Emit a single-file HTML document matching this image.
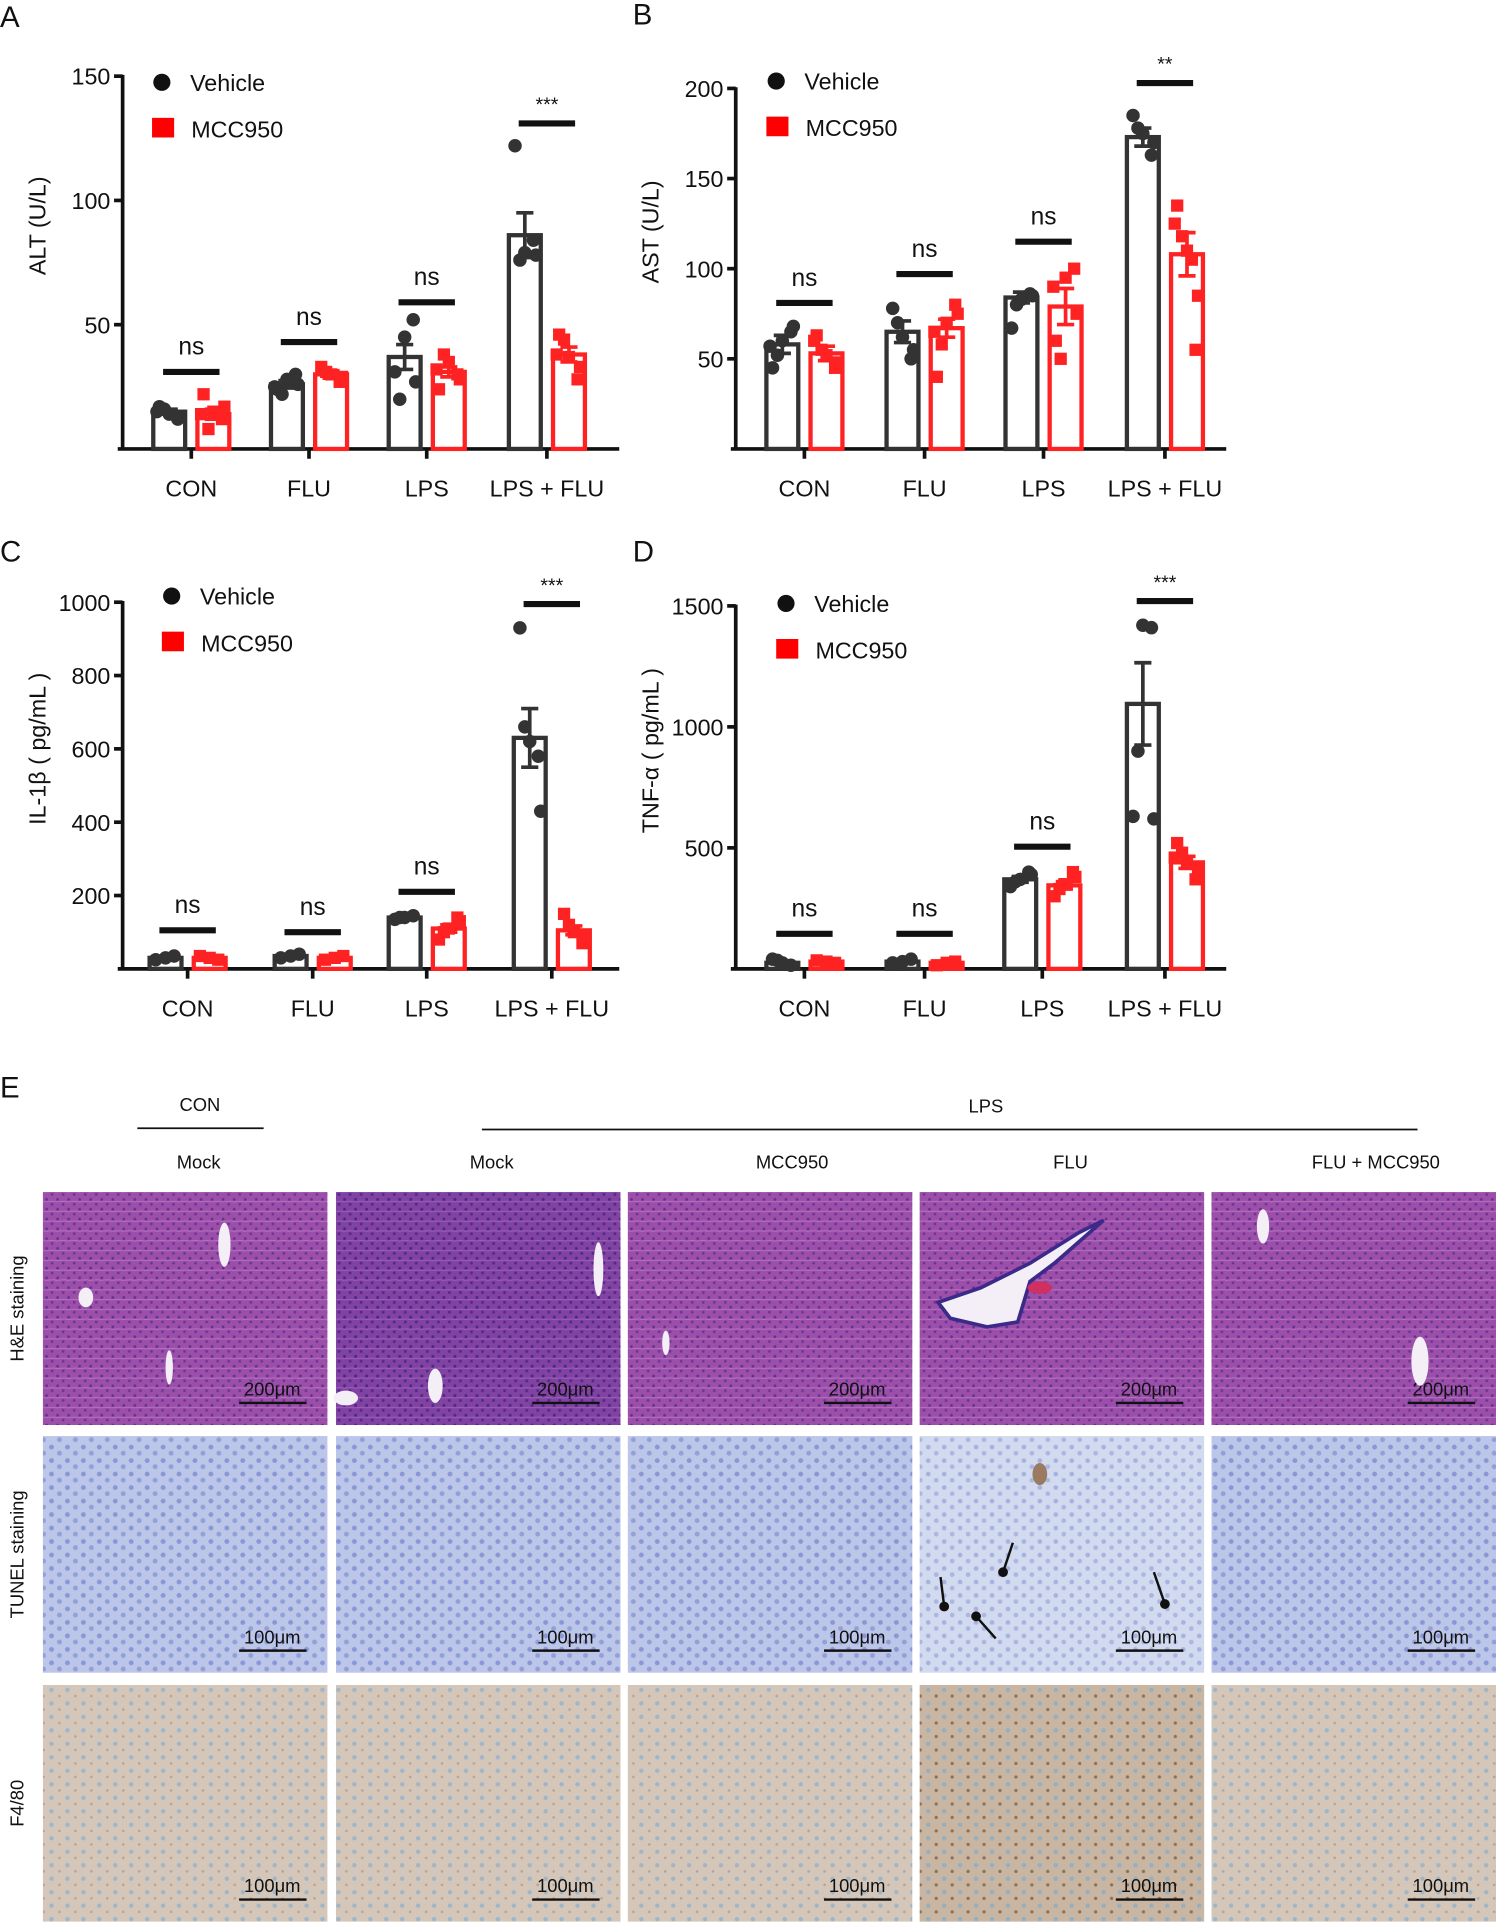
<!DOCTYPE html>
<html><head><meta charset="utf-8">
<style>
html,body{margin:0;padding:0;background:#fff;}
svg{display:block;font-family:"Liberation Sans",Arial,sans-serif;}
</style></head>
<body>
<svg id="fig" width="1496" height="1923" viewBox="0 0 1220 1568" xmlns="http://www.w3.org/2000/svg">
<defs>
<pattern id="heTex" width="9" height="8" patternUnits="userSpaceOnUse">
<rect width="9" height="8" fill="#9c4ea8"/><circle cx="2" cy="2" r="1.1" fill="#5a3494"/><circle cx="6.5" cy="6" r="1.1" fill="#62379a"/><path d="M0 4 L9 3.5" stroke="#bd7ec4" stroke-width="0.6"/>
</pattern>
<pattern id="heTex2" width="9" height="8" patternUnits="userSpaceOnUse">
<rect width="9" height="8" fill="#8242a2"/><circle cx="2" cy="2" r="1.2" fill="#472a88"/><circle cx="6.5" cy="6" r="1.2" fill="#4d2c8c"/><path d="M0 4 L9 3.5" stroke="#a567bb" stroke-width="0.6"/>
</pattern>
<pattern id="tuTex" width="13" height="11" patternUnits="userSpaceOnUse">
<rect width="13" height="11" fill="#bcc6e8"/><circle cx="3" cy="3" r="2" fill="#8997d6"/><circle cx="9.5" cy="8" r="2" fill="#929fd9"/>
</pattern>
<pattern id="tuTex2" width="13" height="11" patternUnits="userSpaceOnUse">
<rect width="13" height="11" fill="#d2daef"/><circle cx="3" cy="3" r="1.9" fill="#a6b2df"/><circle cx="9.5" cy="8" r="1.9" fill="#abb6e1"/>
</pattern>
<pattern id="f4Tex" width="13" height="11" patternUnits="userSpaceOnUse">
<rect width="13" height="11" fill="#d4c7ba"/><circle cx="3" cy="3" r="1.8" fill="#9fb6c8"/><circle cx="9.5" cy="8" r="1.1" fill="#bba592"/>
</pattern>
<pattern id="f4Tex2" width="13" height="11" patternUnits="userSpaceOnUse">
<rect width="13" height="11" fill="#c8b5a2"/><circle cx="3" cy="3" r="1.8" fill="#94aec2"/><circle cx="9.5" cy="8" r="1.3" fill="#8e6e55"/>
</pattern>
</defs>
<g id="charts"></g>
<g id="panelE"></g>
</svg>
<script>
const NS="http://www.w3.org/2000/svg";
const svg=document.getElementById('charts');

// ---------- Panel A (ALT) ----------
const catsA=["CON","FLU","LPS","LPS + FLU"];
const vehA=[15,26,37,86];
const mccA=[14,30,31,38];
const vehSemA=[1,1.5,5,9];
const mccSemA=[2,1.5,2,3];
const vehPtsA=[[14,17,12,16,13,15],[28,24,30,22,26,25],[45,31,52,20,27],[79,122,84,76,78]];
const mccPtsA=[[15,22,12,8,17,14],[30,33,27,31,29],[35,24,30,38,28,32],[37,46,28,44,33,38]];
const sigA=["ns","ns","ns","***"];
const sigValA=[31,43,59,131];
const ticksA=[50,100,150];
// ---------- Panel B (AST) ----------
const catsB=["CON","FLU","LPS","LPS + FLU"];
const vehB=[58,65,84,173];
const mccB=[53,67,79,108];
const vehSemB=[5,6,3,5];
const mccSemB=[4,5,10,12];
const vehPtsB=[[60,45,65,52,68,57],[62,78,50,70,55],[83,67,86,80,85],[175,185,163,178,170]];
const mccPtsB=[[52,63,45,55,48,60],[70,40,80,58,75,65],[95,60,100,50,75,90],[110,135,55,118,85,125,105]];
const sigB=["ns","ns","ns","**"];
const sigValB=[81,97,115,203];
const ticksB=[50,100,150,200];
// ---------- Panel C (IL-1b) ----------
const catsC=["CON","FLU","LPS","LPS + FLU"];
const vehC=[30,35,140,630];
const mccC=[30,30,110,105];
const vehSemC=[3,3,4,80];
const mccSemC=[3,3,10,12];
const vehPtsC=[[30,25,35],[35,30,40],[140,135,145,140],[620,930,580,660,430]];
const mccPtsC=[[30,35,25],[30,25,35],[110,80,140,100,130],[100,150,70,120,90]];
const sigC=["ns","ns","ns","***"];
const sigValC=[105,100,210,995];
const ticksC=[200,400,600,800,1000];
// ---------- Panel D (TNF-a) ----------
const catsD=["CON","FLU","LPS","LPS + FLU"];
const vehD=[25,30,370,1095];
const mccD=[30,25,345,440];
const vehSemD=[4,4,12,170];
const mccSemD=[3,3,15,25];
const vehPtsD=[[25,40,15,35],[30,25,40],[370,340,400,360,390],[1420,630,1410,900,620]];
const mccPtsD=[[30,35,25],[25,15,30],[350,300,400,330,380],[440,520,370,480,410,460]];
const sigD=["ns","ns","ns","***"];
const sigValD=[145,145,505,1520];
const ticksD=[500,1000,1500];

const jitter=[0,-8,7,-4,9,-10,4];

function el(tag,attrs,parent,text){
  const e=document.createElementNS(NS,tag);
  for(const k in attrs)e.setAttribute(k,attrs[k]);
  if(text!==undefined)e.textContent=text;
  (parent||svg).appendChild(e);return e;
}

function chart(cfg){
  const g=el('g',{});
  
  
  const y=v=>cfg.y0-(v/cfg.yMax)*(cfg.y0-cfg.yTop);
  const x=i=>cfg.catX[i];
  const pl=el('text',{x:cfg.letterX,y:cfg.letterY,'font-size':24,fill:'#111'},g,cfg.letter);
  
  
  const ya=el('line',{x1:cfg.axX,y1:cfg.yTop-1,x2:cfg.axX,y2:cfg.y0+1,stroke:'#111','stroke-width':3},g);
  
  
  const xa=el('line',{x1:cfg.axX-4,y1:cfg.y0,x2:cfg.xEnd,y2:cfg.y0,stroke:'#111','stroke-width':3},g);
  
  
  cfg.ticks.forEach(t=>{
    el('line',{x1:cfg.axX-7,y1:y(t),x2:cfg.axX,y2:y(t),stroke:'#111','stroke-width':3},g);
    const tl=el('text',{x:cfg.axX-10,y:y(t)+7,'font-size':19,'text-anchor':'end',fill:'#111'},g,String(t));
    
    
  });
  const yt=el('text',{x:0,y:0,'font-size':19,'text-anchor':'middle',fill:'#111',transform:`translate(${cfg.axX-63},${(cfg.yTop+cfg.y0)/2-30}) rotate(-90)`},g,cfg.yTitle);
  
  
  const lc=el('circle',{cx:cfg.legX,cy:cfg.legY,r:7,fill:'#111'},g);
  
  
  const lt1=el('text',{x:cfg.legX+23,y:cfg.legY+7,'font-size':19,fill:'#111'},g,'Vehicle');
  
  
  const ls=el('rect',{x:cfg.legX-8,y:cfg.legY+29,width:18,height:16,fill:'#f00'},g);
  
  
  const lt2=el('text',{x:cfg.legX+24,y:cfg.legY+45,'font-size':19,fill:'#111'},g,'MCC950');
  
  
  const bw=26, off=18;
  cfg.cats.forEach((c,i)=>{
    el('line',{x1:x(i),y1:cfg.y0,x2:x(i),y2:cfg.y0+8,stroke:'#111','stroke-width':3},g);
    const cl=el('text',{x:x(i),y:cfg.y0+39,'font-size':19,'text-anchor':'middle',fill:'#111'},g,c);
    
    
    [[cfg.veh,cfg.vehSem,cfg.vehPts,'#333',-off,'vehicle'],[cfg.mcc,cfg.mccSem,cfg.mccPts,'#f22',off,'mcc950']].forEach(([m,s,p,col,o,nm])=>{
      const cx=x(i)+o;
      const b=el('rect',{x:cx-bw/2,y:y(m[i]),width:bw,height:cfg.y0-y(m[i]),fill:'none',stroke:col,'stroke-width':3.5},g);
      
      
      const eb=el('path',{d:`M${cx} ${y(m[i]+s[i])}V${y(m[i]-s[i])}M${cx-7} ${y(m[i]+s[i])}H${cx+7}M${cx-7} ${y(m[i]-s[i])}H${cx+7}`,stroke:col,'stroke-width':3,fill:'none'},g);
      
      
      p[i].forEach((v,k)=>{
        const px=cx+jitter[k%jitter.length];
        let pt;
        if(nm==='vehicle') pt=el('circle',{cx:px,cy:y(v),r:5.5,fill:'#333'},g);
        else pt=el('rect',{x:px-5,y:y(v)-5,width:10,height:10,fill:'#f22'},g);
        
        
      });
    });
    const sy=y(cfg.sigVal[i]);
    const sb=el('line',{x1:x(i)-23,y1:sy,x2:x(i)+23,y2:sy,stroke:'#111','stroke-width':5},g);
    
    
    const star=cfg.sig[i]!=='ns';
    const st=el('text',{x:x(i),y:star?sy-10:sy-14,'font-size':star?16:20,'text-anchor':'middle',fill:'#111'},g,cfg.sig[i]);
    
    
  });
}

chart({name:'chart-alt',letter:'A',letterX:0,letterY:22,axX:100,yTop:62,y0:366,yMax:150,xEnd:505,ticks:ticksA,yTitle:'ALT  (U/L)',
  catX:[156,252,348,446],cats:catsA,veh:vehA,mcc:mccA,vehSem:vehSemA,mccSem:mccSemA,vehPts:vehPtsA,mccPts:mccPtsA,sig:sigA,sigVal:sigValA,legX:132,legY:67});
chart({name:'chart-ast',letter:'B',letterX:516,letterY:20,axX:600,yTop:72,y0:366,yMax:200,xEnd:1000,ticks:ticksB,yTitle:'AST  (U/L)',
  catX:[656,754,851,950],cats:catsB,veh:vehB,mcc:mccB,vehSem:vehSemB,mccSem:mccSemB,vehPts:vehPtsB,mccPts:mccPtsB,sig:sigB,sigVal:sigValB,legX:633,legY:66});
chart({name:'chart-il1b',letter:'C',letterX:0,letterY:458,axX:100,yTop:491,y0:790,yMax:1000,xEnd:505,ticks:ticksC,yTitle:'IL-1β ( pg/mL )',
  catX:[153,255,348,450],cats:catsC,veh:vehC,mcc:mccC,vehSem:vehSemC,mccSem:mccSemC,vehPts:vehPtsC,mccPts:mccPtsC,sig:sigC,sigVal:sigValC,legX:140,legY:486});
chart({name:'chart-tnfa',letter:'D',letterX:516,letterY:458,axX:600,yTop:494,y0:790,yMax:1500,xEnd:1000,ticks:ticksD,yTitle:'TNF-α ( pg/mL )',
  catX:[656,754,850,950],cats:catsD,veh:vehD,mcc:mccD,vehSem:vehSemD,mccSem:mccSemD,vehPts:vehPtsD,mccPts:mccPtsD,sig:sigD,sigVal:sigValD,legX:641,legY:492});

// ---------- Panel E ----------
const E=document.getElementById('panelE');
function te(tag,a,t){return el(tag,a,E,t);}
let t;
t=te('text',{x:0,y:895,'font-size':24,fill:'#111'},'E');
t=te('text',{x:163,y:906,'font-size':15,'text-anchor':'middle',fill:'#111'},'CON');
te('line',{x1:112,y1:920,x2:215,y2:920,stroke:'#111','stroke-width':1.5});
t=te('text',{x:804,y:907,'font-size':15,'text-anchor':'middle',fill:'#111'},'LPS');
te('line',{x1:393,y1:921,x2:1156,y2:921,stroke:'#111','stroke-width':1.5});
const colTitles=["Mock","Mock","MCC950","FLU","FLU + MCC950"];
const colTitleX=[162,401,646,873,1122];
const colX=[35,274,512,750,988];
colTitles.forEach((c,i)=>{t=te('text',{x:colTitleX[i],y:953,'font-size':15,'text-anchor':'middle',fill:'#111'},c);});
const rows=[{y:972,h:190,name:'he',label:'H&E staining',fills:['url(#heTex)','url(#heTex2)','url(#heTex)','url(#heTex)','url(#heTex)'],scale:'200μm'},
 {y:1171,h:193,name:'tunel',label:'TUNEL staining',fills:['url(#tuTex)','url(#tuTex)','url(#tuTex)','url(#tuTex2)','url(#tuTex)'],scale:'100μm'},
 {y:1374,h:193,name:'f480',label:'F4/80',fills:['url(#f4Tex)','url(#f4Tex)','url(#f4Tex)','url(#f4Tex2)','url(#f4Tex)'],scale:'100μm'}];
rows.forEach(r=>{
  t=te('text',{x:0,y:0,'font-size':15,'text-anchor':'middle',fill:'#111',transform:`translate(19,${r.y+r.h/2}) rotate(-90)`},r.label);
  
  colX.forEach((cx,i)=>{
    const im=te('rect',{x:cx,y:r.y,width:232,height:r.h,fill:r.fills[i]});
    
    
    const sx=cx+160, sy=r.y+r.h-18;
    te('line',{x1:sx,y1:sy,x2:sx+55,y2:sy,stroke:'#111','stroke-width':2});
    t=te('text',{x:sx+27,y:sy-6,'font-size':15,'text-anchor':'middle',fill:'#111'},r.scale);
    
  });
});
const ves=[[183,1015,5,18],[70,1058,6,8],[138,1115,3,14],[488,1035,4,22],[355,1130,6,14],[282,1140,10,6],[543,1095,3,10],[1158,1110,7,20],[1030,1000,5,14]];
ves.forEach(v=>te('ellipse',{cx:v[0],cy:v[1],rx:v[2],ry:v[3],fill:'#f4eef6'}));
te('path',{d:'M765 1062 L800 1050 L840 1030 L880 1005 L900 995 L860 1030 L840 1045 L830 1078 L805 1082 L775 1075 Z',fill:'#f4eef6',stroke:'#3c2a8a','stroke-width':3});
te('ellipse',{cx:848,cy:1050,rx:10,ry:5,fill:'#d03060'});
[[826,1258,818,1282],[767,1286,770,1310],[812,1336,796,1318],[941,1282,950,1308]].forEach(a=>{
  te('line',{x1:a[0],y1:a[1],x2:a[2],y2:a[3],stroke:'#111','stroke-width':2});
  te('circle',{cx:a[2],cy:a[3],r:4,fill:'#111'});
});
te('ellipse',{cx:848,cy:1202,rx:6,ry:9,fill:'#9a7a60'});
</script>
</body></html>
